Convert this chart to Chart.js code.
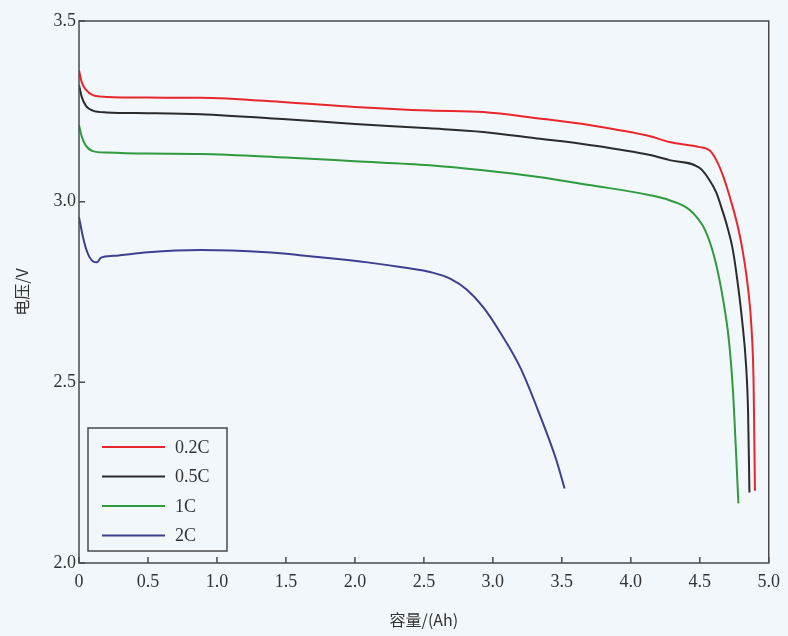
<!DOCTYPE html>
<html>
<head>
<meta charset="utf-8">
<script src="https://cdn.jsdelivr.net/npm/chart.js@4/dist/chart.umd.min.js"></script>
<style>
    html, body { margin: 0; padding: 0; background: #f1f7fa; }
    #wrap { width: 788px; height: 636px; }
</style>
</head>
<body>
<div id="wrap"><canvas id="dischargeChart" width="788" height="636"></canvas></div>
<script>
const seriesLabels = ['0.2C', '0.5C', '1C', '2C'];
const seriesColors = ['#e8262b', '#2b2b2e', '#2f9a3e', '#3e3f8e'];

const capacity02C = [0, 0.02, 0.05, 0.1, 0.2, 0.5, 0.88, 1.5, 2.0, 2.54, 2.93, 3.32, 3.70, 4.14, 4.28, 4.5, 4.57, 4.62, 4.67, 4.72, 4.77, 4.81, 4.85, 4.875, 4.89, 4.9];
const voltage02C = [3.364, 3.33, 3.31, 3.295, 3.29, 3.288, 3.2875, 3.275, 3.262, 3.252, 3.248, 3.231, 3.212, 3.181, 3.165, 3.151, 3.142, 3.115, 3.07, 3.01, 2.94, 2.866, 2.76, 2.65, 2.50, 2.20];

const capacity05C = [0, 0.02, 0.05, 0.1, 0.2, 0.5, 0.88, 1.5, 2.0, 2.54, 2.93, 3.32, 3.70, 4.14, 4.28, 4.5, 4.57, 4.62, 4.66, 4.70, 4.74, 4.78, 4.81, 4.835, 4.85, 4.86];
const voltage05C = [3.323, 3.29, 3.265, 3.252, 3.247, 3.245, 3.242, 3.228, 3.215, 3.203, 3.193, 3.175, 3.157, 3.129, 3.115, 3.093, 3.06, 3.025, 2.98, 2.93, 2.866, 2.76, 2.66, 2.55, 2.42, 2.195];

const capacity1C = [0, 0.02, 0.05, 0.1, 0.2, 0.5, 0.88, 1.5, 2.0, 2.54, 2.93, 3.32, 3.70, 4.14, 4.28, 4.43, 4.54, 4.61, 4.67, 4.71, 4.74, 4.76, 4.78];
const voltage1C = [3.212, 3.18, 3.155, 3.14, 3.136, 3.133, 3.132, 3.122, 3.112, 3.101, 3.087, 3.069, 3.046, 3.018, 3.004, 2.976, 2.92, 2.84, 2.727, 2.62, 2.48, 2.33, 2.165];

const capacity2C = [0, 0.03, 0.06, 0.1, 0.13, 0.16, 0.25, 0.5, 0.88, 1.36, 1.6, 1.84, 2.09, 2.33, 2.57, 2.69, 2.81, 2.93, 3.05, 3.2, 3.34, 3.46, 3.52];
const voltage2C = [2.957, 2.9, 2.86, 2.835, 2.832, 2.845, 2.85, 2.86, 2.866, 2.86, 2.852, 2.843, 2.832, 2.819, 2.803, 2.787, 2.757, 2.708, 2.64, 2.54, 2.41, 2.285, 2.206];

const xTicks = [0, 0.5, 1.0, 1.5, 2.0, 2.5, 3.0, 3.5, 4.0, 4.5, 5.0];
const yTicks = [2.0, 2.5, 3.0, 3.5];

const xTitle = '容量/(Ah)';
const yTitle = '电压/V';

const toPoints = (xs, ys) => xs.map((x, i) => ({ x, y: ys[i] }));

const seriesData = [
    toPoints(capacity02C, voltage02C),
    toPoints(capacity05C, voltage05C),
    toPoints(capacity1C, voltage1C),
    toPoints(capacity2C, voltage2C)
];

const axisColor = '#4a4a4a';
const labelFont = { family: "'Liberation Serif', 'DejaVu Serif', serif", size: 18 };
const titleFont = { family: "'Noto Sans CJK SC', 'Liberation Serif', serif", size: 16 };

// frame + inward tick marks
const framePlugin = {
    id: 'frame',
    beforeDraw(chart) {
        const { ctx } = chart;
        ctx.save();
        ctx.fillStyle = '#f1f7fa';
        ctx.fillRect(0, 0, chart.width, chart.height);
        ctx.restore();
    },
    afterDatasetsDraw(chart) {
        const { ctx, chartArea: area, scales } = chart;
        ctx.save();
        ctx.strokeStyle = axisColor;
        ctx.lineWidth = 1.5;
        ctx.strokeRect(area.left, area.top, area.right - area.left, area.bottom - area.top);
        ctx.beginPath();
        xTicks.forEach((v) => {
            const px = scales.x.getPixelForValue(v);
            ctx.moveTo(px, area.bottom);
            ctx.lineTo(px, area.bottom - 6);
        });
        yTicks.forEach((v) => {
            const py = scales.y.getPixelForValue(v);
            ctx.moveTo(area.left, py);
            ctx.lineTo(area.left + 6, py);
        });
        ctx.stroke();
        ctx.restore();
    }
};

// legend box inside the plot, bottom-left
const boxLegendPlugin = {
    id: 'boxLegend',
    afterDraw(chart) {
        const { ctx, chartArea: area } = chart;
        const left = area.left + 9;
        const top = area.bottom - 135;
        ctx.save();
        ctx.fillStyle = '#f1f7fa';
        ctx.fillRect(left, top, 139, 123);
        ctx.strokeStyle = axisColor;
        ctx.lineWidth = 1.5;
        ctx.strokeRect(left, top, 139, 123);
        ctx.font = `${labelFont.size}px ${labelFont.family}`;
        ctx.textBaseline = 'middle';
        chart.data.datasets.forEach((ds, i) => {
            const y = top + 19 + i * 29.5;
            ctx.strokeStyle = ds.borderColor;
            ctx.lineWidth = 2;
            ctx.beginPath();
            ctx.moveTo(left + 14, y);
            ctx.lineTo(left + 77, y);
            ctx.stroke();
            ctx.fillStyle = '#333';
            ctx.fillText(ds.label, left + 87, y + 1);
        });
        ctx.restore();
    }
};

new Chart(document.getElementById('dischargeChart'), {
    type: 'line',
    data: {
        datasets: seriesData.map((points, i) => ({
            label: seriesLabels[i],
            data: points,
            borderColor: seriesColors[i],
            backgroundColor: seriesColors[i],
            borderWidth: 2,
            pointRadius: 0,
            fill: false,
            cubicInterpolationMode: 'monotone'
        }))
    },
    options: {
        responsive: false,
        animation: false,
        layout: { padding: { top: 21, right: 19, left: 0, bottom: 0 } },
        plugins: {
            legend: { display: false },
            tooltip: { enabled: false }
        },
        scales: {
            x: {
                type: 'linear',
                min: 0,
                max: 5,
                afterFit: (scale) => { scale.height = 73; },
                afterBuildTicks: (scale) => { scale.ticks = xTicks.map((v) => ({ value: v })); },
                grid: { display: false, drawTicks: false },
                border: { display: false },
                ticks: {
                    padding: 8,
                    color: '#333',
                    font: labelFont,
                    maxRotation: 0,
                    callback: (v) => (v === 0 ? '0' : Number(v).toFixed(1))
                },
                title: {
                    display: true,
                    text: xTitle,
                    color: '#333',
                    font: titleFont,
                    padding: { top: 0, bottom: 6 }
                }
            },
            y: {
                type: 'linear',
                min: 2.0,
                max: 3.5,
                afterFit: (scale) => { scale.width = 79; },
                afterBuildTicks: (scale) => { scale.ticks = yTicks.map((v) => ({ value: v })); },
                grid: { display: false, drawTicks: false },
                border: { display: false },
                ticks: {
                    padding: 3,
                    color: '#333',
                    font: labelFont,
                    callback: (v) => Number(v).toFixed(1)
                },
                title: {
                    display: true,
                    text: yTitle,
                    color: '#333',
                    font: titleFont,
                    padding: { top: 12, bottom: 0 }
                }
            }
        }
    },
    plugins: [framePlugin, boxLegendPlugin]
});
</script>
</body>
</html>
